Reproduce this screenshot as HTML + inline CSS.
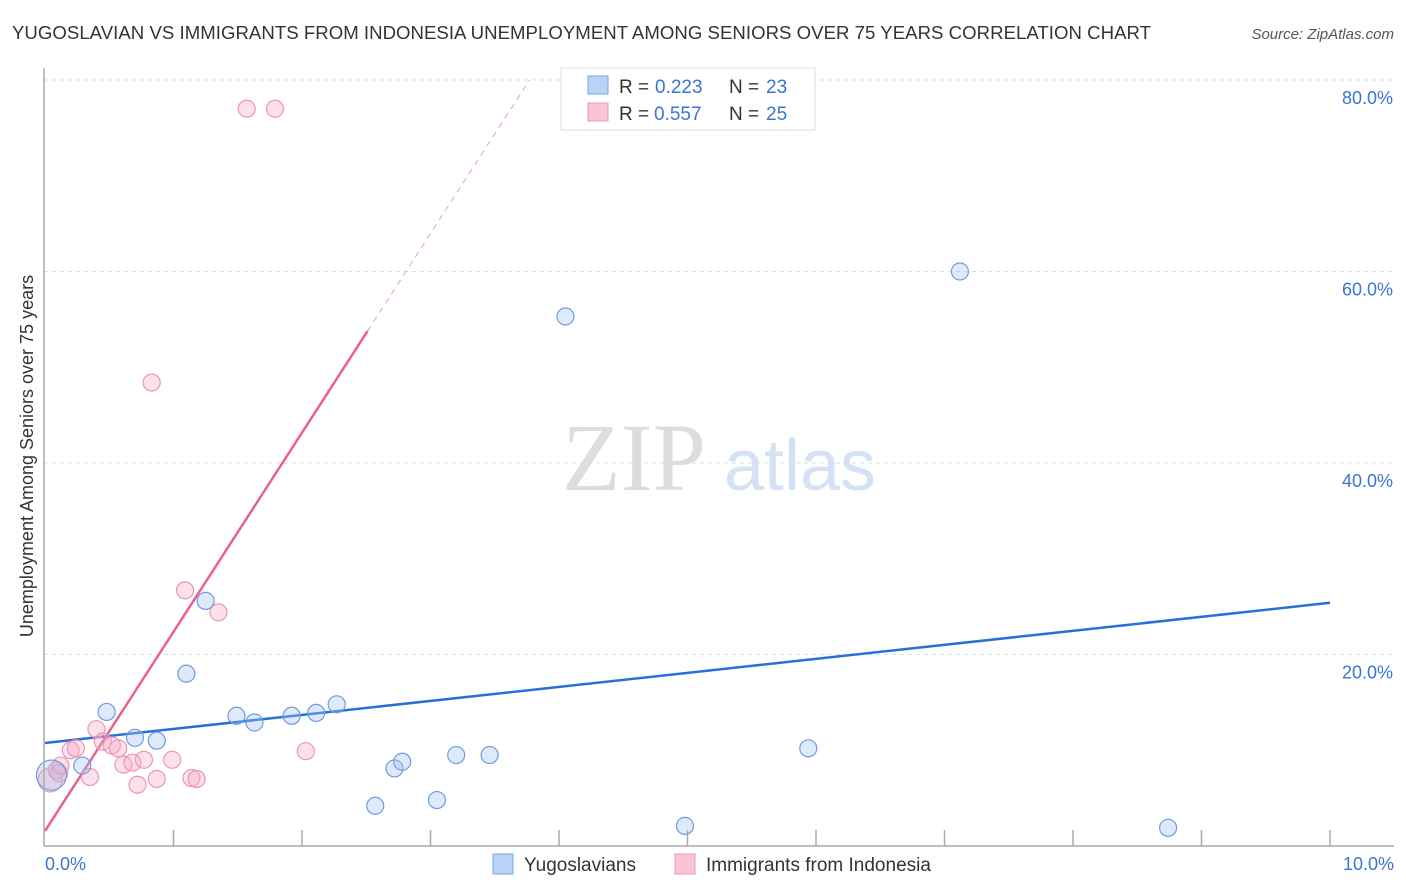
<!DOCTYPE html>
<html><head><meta charset="utf-8"><style>
body{margin:0;background:#fff;font-family:"Liberation Sans",sans-serif;}
svg{display:block}
</style></head><body>
<svg id="chart" width="1406" height="892">
<text x="12" y="39" font-size="18.6" fill="#333" textLength="1139">YUGOSLAVIAN VS IMMIGRANTS FROM INDONESIA UNEMPLOYMENT AMONG SENIORS OVER 75 YEARS CORRELATION CHART</text>
<text x="1394" y="39" font-size="15" fill="#555" font-style="italic" text-anchor="end">Source: ZipAtlas.com</text>
<text x="634" y="490" font-size="96" fill="#ddd" font-family="Liberation Serif,serif" text-anchor="middle">ZIP</text>
<text x="800" y="490" font-size="72" fill="#d5e2f5" text-anchor="middle">atlas</text>
<text transform="translate(33,456) rotate(-90)" font-size="18" fill="#333" text-anchor="middle">Unemployment Among Seniors over 75 years</text>
<g id="grid"></g><g id="lines"></g><g id="pts"></g>
<line x1="44" y1="68" x2="44" y2="846" stroke="#aaa" stroke-width="1.5"/>
<line x1="44" y1="846" x2="1394" y2="846" stroke="#aaa" stroke-width="1.5"/>
<text x="45" y="870" font-size="18" fill="#3a74d4">0.0%</text>
<text x="1394" y="870" font-size="18" fill="#3a74d4" text-anchor="end">10.0%</text>
<g>
<rect x="561" y="68" width="254" height="62" fill="#fff" stroke="#ddd"/>
<rect x="588" y="76" width="20" height="18" fill="#b9d2f5" stroke="#7aa6e6"/>
<text x="619" y="93" font-size="19" fill="#333">R =</text>
<text x="655" y="93" font-size="19" fill="#3a74d4">0.223</text>
<text x="729" y="93" font-size="19" fill="#333">N =</text>
<text x="766" y="93" font-size="19" fill="#3a74d4">23</text>
<rect x="588" y="103" width="20" height="18" fill="#f8c5d3" stroke="#ec97b0"/>
<text x="619" y="120" font-size="19" fill="#333">R =</text>
<text x="654" y="120" font-size="19" fill="#3a74d4">0.557</text>
<text x="729" y="120" font-size="19" fill="#333">N =</text>
<text x="766" y="120" font-size="19" fill="#3a74d4">25</text>
</g>
<g>
<rect x="493" y="854" width="20" height="20" fill="#b9d2f5" stroke="#7aa6e6"/>
<text x="524" y="871" font-size="19" fill="#333">Yugoslavians</text>
<rect x="675" y="854" width="20" height="20" fill="#f8c5d3" stroke="#ec97b0"/>
<text x="706" y="871" font-size="19" fill="#333">Immigrants from Indonesia</text>
</g>
</svg>
<script>
const yTicks=[20,40,60,80];
const yTickLabels=["20.0%","40.0%","60.0%","80.0%"];
const xTicks=[1,2,3,4,5,6,7,8,9,10];
const blueX=[0.05,0.29,0.48,0.7,0.87,1.1,1.25,1.49,1.63,1.92,2.11,2.27,2.57,2.72,2.78,3.05,3.2,3.46,4.05,4.98,5.94,7.12,8.74];
const blueY=[7.4,8.4,14.0,11.3,11.0,18.0,25.6,13.6,12.9,13.6,13.9,14.8,4.2,8.1,8.8,4.8,9.5,9.5,55.3,2.1,10.2,60.0,1.9];
const pinkX=[0.04,0.09,0.12,0.2,0.24,0.35,0.4,0.45,0.52,0.57,0.61,0.68,0.72,0.77,0.87,0.99,1.09,1.14,1.18,1.35,1.57,1.79,0.83,2.03,0.11];
const pinkY=[6.9,7.9,8.4,10.0,10.2,7.2,12.2,10.9,10.5,10.2,8.5,8.7,6.4,9.0,7.0,9.0,26.7,7.1,7.0,24.4,77.0,77.0,48.4,9.9,7.6];
const blueLine=[10.76,25.4];
const pinkLine=[1.57,20.8];
const sx=v=>45+v*128.5, sy=v=>846-v*9.575;
const NS="http://www.w3.org/2000/svg";
function mk(p,t,a){const e=document.createElementNS(NS,t);for(const k in a)e.setAttribute(k,a[k]);document.getElementById(p).appendChild(e);return e;}
yTicks.forEach((v,i)=>{
 const l=mk('grid','line',{x1:44,x2:1394,y1:sy(v),y2:sy(v),stroke:'#ddd','stroke-dasharray':'4,4'});
 
 
 const t=mk('grid','text',{x:1393,y:sy(v)+24,'font-size':18,fill:'#3a74d4','text-anchor':'end'});
 t.textContent=yTickLabels[i];
 
 
});
xTicks.forEach(v=>{
 const l=mk('grid','line',{x1:sx(v),x2:sx(v),y1:830,y2:846,stroke:'#aaa','stroke-width':1.5});
 
 
});
const bl=mk('lines','line',{x1:sx(0),y1:sy(blueLine[0]),x2:sx(10),y2:sy(blueLine[1]),stroke:'#2a6fd6','stroke-width':2.5});


const xs=2.51, xe=(80-pinkLine[0])/pinkLine[1];
const pl=mk('lines','line',{x1:sx(0),y1:sy(pinkLine[0]),x2:sx(xs),y2:sy(pinkLine[0]+pinkLine[1]*xs),stroke:'#e8628c','stroke-width':2.5});


const pd=mk('lines','line',{x1:sx(xs),y1:sy(pinkLine[0]+pinkLine[1]*xs),x2:sx(xe),y2:sy(80),stroke:'#e8a0b8','stroke-width':1,'stroke-dasharray':'6,5'});


pinkX.forEach((x,i)=>{
 const c=mk('pts','circle',{cx:sx(x),cy:sy(pinkY[i]),r:i==0?12:8.5,fill:'rgba(246,170,195,0.35)',stroke:'#ec97b0','stroke-width':1.2});
 
 
});
blueX.forEach((x,i)=>{
 const c=mk('pts','circle',{cx:sx(x),cy:sy(blueY[i]),r:i==0?15:8.5,fill:'rgba(160,195,240,0.35)',stroke:'#6c9de0','stroke-width':1.2});
 
 
});
</script>
</body></html>
